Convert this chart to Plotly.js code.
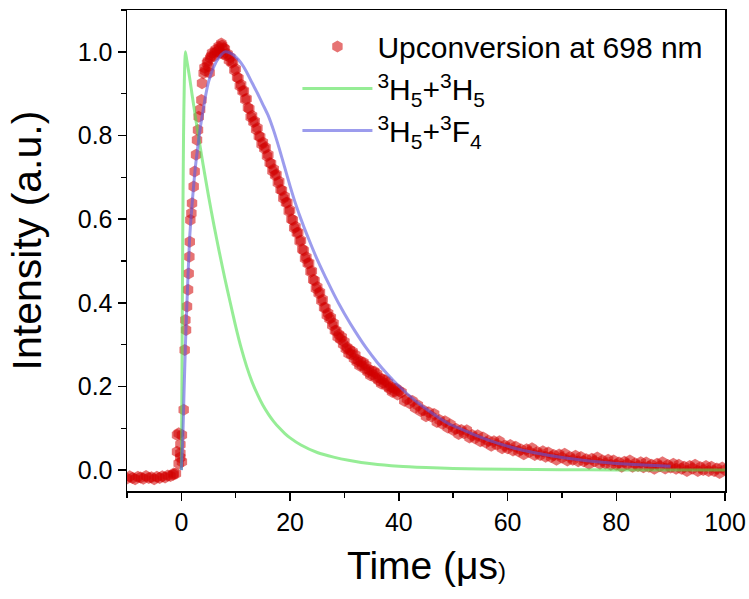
<!DOCTYPE html>
<html>
<head>
<meta charset="utf-8">
<script src="https://cdn.plot.ly/plotly-3.0.1.min.js"></script>
<style>html,body{margin:0;padding:0;background:#fff;}#chart{width:749px;height:599px;}</style>
</head>
<body>
<div id="chart"></div>
<script>
// Measured upconversion emission at 698 nm (red points)
var redX = [-10,-9.5,-9,-8.5,-8,-7.5,-7,-6.5,-6,-5.5,-5,-4.5,-4,-3.5,-3,-2.5,-2,-1.5,-1,
  -1.4,-0.8,-0.8,-0.5,-0.49,-0.2,-0.18,-0.18,0.1,0.1,0.43,
  0.61,0.74,0.86,1.04,1.23,1.35,1.47,1.55,1.65,1.84,1.96,2.27,2.45,2.70,2.88,3.06,3.19,3.45,3.68,3.80,4.1,4.25,4.4,4.72,4.9,5.0,5.2,5.3,5.5,5.64,6.0,6.15,6.3,6.6,6.86,7.0,7.2,7.35,7.5,7.65,7.78,
  8,8.25,8.5,8.75,9,9.25,9.5,9.75,10,10.25,10.5,10.75,11,11.25,11.5,11.75,12,12.25,12.5,12.75,13,13.25,13.5,13.75,14,14.25,14.5,14.75,15,15.25,15.5,15.75,
  16,16.25,16.5,16.75,17,17.25,17.5,17.75,18,18.25,18.5,18.75,19,19.25,19.5,19.75,20,20.25,20.5,20.75,21,21.25,21.5,21.75,22,22.25,22.5,22.75,23,23.25,23.5,23.75,
  24,24.25,24.5,24.75,25,25.25,25.5,25.75,26,26.25,26.5,26.75,27,27.25,27.5,27.75,28,28.25,28.5,28.75,29,29.25,29.5,29.75,30,30.25,30.5,30.75,31,31.25,31.5,31.75,
  32,32.25,32.5,32.75,33,33.25,33.5,33.75,34,34.25,34.5,34.75,35,35.25,35.5,35.75,36,36.25,36.5,36.75,37,37.25,37.5,37.75,38,38.25,38.5,38.75,39,39.25,39.5,39.75,40,
  40.5,41,41.5,42,42.5,43,43.5,44,44.5,45,45.5,46,46.5,47,47.5,48,48.5,49,49.5,50,
  50.5,51,51.5,52,52.5,53,53.5,54,54.5,55,55.5,56,56.5,57,57.5,58,58.5,59,59.5,60,60.5,61,61.5,62,62.5,63,63.5,64,64.5,65,65.5,66,66.5,67,67.5,68,68.5,69,69.5,70,
  70.5,71,71.5,72,72.5,73,73.5,74,74.5,75,75.5,76,76.5,77,77.5,78,78.5,79,79.5,80,80.5,81,81.5,82,82.5,83,83.5,84,84.5,85,85.5,86,86.5,87,87.5,88,88.5,89,89.5,90,
  90.5,91,91.5,92,92.5,93,93.5,94,94.5,95,95.5,96,96.5,97,97.5,98,98.5,99,99.5,100];
var redY = [-0.020,-0.015,-0.019,-0.022,-0.016,-0.018,-0.021,-0.014,-0.019,-0.017,-0.022,-0.016,-0.019,-0.015,-0.018,-0.013,-0.014,-0.011,-0.008,
  -0.008,0.044,0.084,0.016,0.088,0.030,0.040,0.061,0.020,0.084,0.144,
  0.287,0.359,0.335,0.391,0.431,0.470,0.510,0.546,0.598,0.614,0.638,0.678,0.714,0.754,0.789,0.813,0.845,0.862,0.885,0.925,0.949,0.962,0.955,0.973,0.978,0.965,0.950,0.985,0.990,0.997,0.990,0.998,1.005,1.000,1.013,1.008,0.998,1.020,1.015,0.995,1.009,
  1.007,0.992,0.995,0.980,0.987,0.974,0.976,0.956,0.959,0.939,0.937,0.918,0.921,0.906,0.907,0.886,0.888,0.866,0.864,0.844,0.847,0.832,0.834,0.814,0.818,0.798,0.797,0.779,0.783,0.769,0.771,0.751,
  0.754,0.734,0.733,0.715,0.719,0.705,0.707,0.687,0.690,0.670,0.669,0.650,0.654,0.639,0.640,0.619,0.621,0.600,0.598,0.579,0.582,0.567,0.568,0.547,0.549,0.528,0.525,0.506,0.509,0.494,0.495,0.474,
  0.476,0.455,0.453,0.434,0.438,0.423,0.425,0.405,0.408,0.388,0.388,0.370,0.375,0.362,0.365,0.346,0.351,0.333,0.334,0.318,0.324,0.313,0.318,0.301,0.307,0.290,0.293,0.279,0.287,0.277,0.283,0.267,
  0.275,0.259,0.263,0.250,0.259,0.250,0.257,0.242,0.250,0.235,0.240,0.227,0.237,0.228,0.236,0.221,0.230,0.215,0.220,0.207,0.217,0.208,0.215,0.201,0.209,0.195,0.199,0.187,0.196,0.188,0.195,0.181,0.189,
  0.186,0.166,0.170,0.160,0.165,0.149,0.155,0.141,0.143,0.129,0.138,0.128,0.134,0.115,0.120,0.111,0.117,0.102,0.109,0.096,
  0.099,0.086,0.096,0.088,0.095,0.078,0.084,0.076,0.083,0.069,0.078,0.066,0.070,0.058,0.069,0.061,0.069,0.052,0.059,0.052,0.060,0.047,0.056,0.045,0.049,0.038,0.050,0.043,0.052,0.036,0.043,0.036,0.045,0.032,0.042,0.031,0.036,0.025,0.037,0.030,
  0.039,0.023,0.031,0.025,0.034,0.021,0.031,0.021,0.026,0.015,0.027,0.021,0.030,0.015,0.023,0.016,0.025,0.013,0.023,0.013,0.018,0.008,0.020,0.014,0.023,0.008,0.016,0.010,0.019,0.007,0.018,0.008,0.013,0.003,0.015,0.009,0.019,0.004,0.012,0.006,
  0.015,0.003,0.013,0.003,0.008,-0.002,0.010,0.004,0.013,-0.002,0.007,0.000,0.010,-0.002,0.008,-0.002,0.004,-0.007,0.006,0.000];

// Model curve 3H5+3H5 (green)
var greenX = [0,0.1,0.25,0.4,0.55,0.74,1.0,1.5,2,2.5,3,4,5,6,7,8,9,10,11,12,13,14,15,16,17,18,19,20,22,25,28,31,35,40,45,50,60,70,80,100];
var greenY = [0,0.2,0.55,0.8,0.93,1.0,0.98,0.94,0.895,0.852,0.81,0.73,0.655,0.585,0.52,0.458,0.40,0.343,0.292,0.248,0.211,0.181,0.155,0.134,0.116,0.101,0.088,0.077,0.060,0.042,0.031,0.023,0.015,0.009,0.006,0.004,0.002,0.001,0.0005,0];

// Model curve 3H5+3F4 (blue)
var blueX = [0,0.25,0.5,0.75,1,1.5,2,2.5,3,3.5,4,4.5,5,6,7,8,9,10,11,12,13,14,15,16,17,18,19,20,21,22,23,24,25,26,27,28,29,30,32,34,36,38,40,43,46,49,52,55,58,62,66,70,75,80,85,90];
var blueY = [0,0.07,0.19,0.30,0.39,0.55,0.64,0.715,0.77,0.82,0.86,0.898,0.928,0.965,0.988,1.0,0.997,0.988,0.973,0.952,0.926,0.901,0.874,0.847,0.811,0.769,0.724,0.679,0.637,0.600,0.566,0.534,0.503,0.475,0.448,0.422,0.397,0.374,0.331,0.292,0.258,0.228,0.201,0.166,0.137,0.112,0.095,0.079,0.065,0.050,0.039,0.030,0.022,0.016,0.012,0.009];

var seriesNames = ['Upconversion at 698 nm', '<sup>3</sup>H<sub>5</sub>+<sup>3</sup>H<sub>5</sub>', '<sup>3</sup>H<sub>5</sub>+<sup>3</sup>F<sub>4</sub>'];
var xTickVals = [0,20,40,60,80,100];
var yTickVals = [0,0.2,0.4,0.6,0.8,1.0];

var FONT = 'Liberation Sans, Arial, Helvetica, sans-serif';

var traces = [
  {x: redX, y: redY, name: seriesNames[0], type: 'scatter', mode: 'markers',
   marker: {symbol: 'hexagon', size: 12, color: 'rgb(210,0,0)', opacity: 0.55, line: {width: 0}}},
  {x: greenX, y: greenY, name: seriesNames[1], type: 'scatter', mode: 'lines',
   line: {color: 'rgba(80,225,80,0.6)', width: 3, shape: 'spline', smoothing: 0.6}},
  {x: blueX, y: blueY, name: seriesNames[2], type: 'scatter', mode: 'lines',
   line: {color: 'rgba(90,90,225,0.6)', width: 3, shape: 'spline', smoothing: 0.6}}
];

var axisCommon = {
  showline: true, linecolor: '#000', linewidth: 1.5, mirror: true,
  ticks: 'outside', ticklen: 8, tickwidth: 1.5, tickcolor: '#000',
  showgrid: false, zeroline: false,
  tickfont: {family: FONT, size: 25, color: '#000'}
};

var layout = {
  width: 749, height: 599,
  margin: {l: 127, r: 24, t: 10, b: 108},
  paper_bgcolor: '#fff', plot_bgcolor: '#fff',
  xaxis: Object.assign({}, axisCommon, {
    range: [-10, 100], tickmode: 'array', tickvals: xTickVals,
    minor: {dtick: 10, tick0: 0, ticks: 'outside', ticklen: 5, tickwidth: 1.5, tickcolor: '#000', showgrid: false}
  }),
  yaxis: Object.assign({}, axisCommon, {
    range: [-0.05, 1.1], tickmode: 'array', tickvals: yTickVals, tickformat: '.1f',
    minor: {dtick: 0.1, tick0: 0, ticks: 'outside', ticklen: 5, tickwidth: 1.5, tickcolor: '#000', showgrid: false}
  }),
  showlegend: true,
  legend: {x: 0.285, y: 0.978, xanchor: 'left', yanchor: 'top', bgcolor: 'rgba(0,0,0,0)',
    font: {family: FONT, size: 30, color: '#000'}, itemwidth: 70, tracegroupgap: 0},
  annotations: [
    {text: 'Time (μs<span style="font-size:24px">)</span>', xref: 'paper', yref: 'paper',
     x: 0.5, y: -0.155, xanchor: 'center', yanchor: 'middle', showarrow: false,
     font: {family: FONT, size: 39, color: '#000'}},
    {text: 'Intensity (a.u.)', xref: 'paper', yref: 'paper', textangle: -90,
     x: -0.168, y: 0.52, xanchor: 'center', yanchor: 'middle', showarrow: false,
     font: {family: FONT, size: 41, color: '#000'}}
  ]
};

Plotly.newPlot('chart', traces, layout, {displayModeBar: false, staticPlot: true});
</script>
</body>
</html>
